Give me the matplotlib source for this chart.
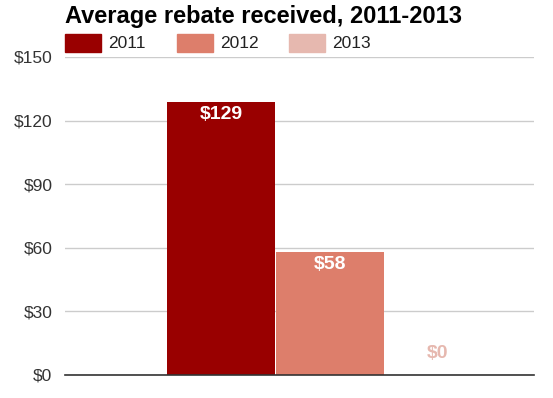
import matplotlib
matplotlib.use("Agg")
import matplotlib.pyplot as plt
from matplotlib.patches import Rectangle

plt.rcParams['font.family'] = ['Liberation Sans', 'DejaVu Sans']

# data
years = ['2011', '2012', '2013']
rebates = [129, 58, 0]
bar_colors = ['#990000', '#dd7e6b', '#e6b8af']
yticks = [0, 30, 60, 90, 120, 150]

fig = plt.figure(figsize=(5.53, 3.98), dpi=100)
ax = fig.add_axes([65 / 553, 23 / 398, 469 / 553, 318 / 398])

positions = [0, 1, 2]
ax.bar(positions, rebates, width=0.995, color=bar_colors, zorder=2)

# value labels: inside the bar in white, or above it in the bar colour when too small
label_font = ['Liberation Sans Narrow', 'Liberation Sans', 'DejaVu Sans']
for x, v, c in zip(positions, rebates, bar_colors):
    if v > 20:
        ax.text(x, v - 6, f'${v}', ha='center', va='center', color='white',
                fontsize=14, fontweight='bold', family=label_font, zorder=3)
    else:
        ax.text(x, v + 10, f'${v}', ha='center', va='center', color=c,
                fontsize=14, fontweight='bold', family=label_font, zorder=3)

ax.set_xlim(-1.44, 2.885)
ax.set_ylim(0, 150)
ax.set_yticks(yticks)
ax.set_yticklabels([f'${t}' for t in yticks], fontsize=12.5, color='#333333')
ax.set_xticks([])
ax.tick_params(axis='y', length=0, pad=9)
ax.grid(axis='y', color='#cccccc', linewidth=1, zorder=0)
for side in ['top', 'right', 'left']:
    ax.spines[side].set_visible(False)
ax.spines['bottom'].set_color('#333333')
ax.spines['bottom'].set_linewidth(1.2)
ax.spines['bottom'].set_zorder(4)

# title
fig.text(65 / 553, 1 - 17 / 398, 'Average rebate received, 2011-2013',
         ha='left', va='center', fontsize=17, fontweight='bold', color='black')

# legend drawn as in the original: swatch + label in a row
legend_x = [65, 177, 289]
for lx, yr, c in zip(legend_x, years, bar_colors):
    fig.patches.append(Rectangle((lx / 553, 1 - 52 / 398), 36 / 553, 18 / 398,
                                 transform=fig.transFigure, color=c, figure=fig))
    fig.text((lx + 43) / 553, 1 - 43 / 398, yr, ha='left', va='center',
             fontsize=12.5, color='#222222')

plt.savefig('out.png', dpi=100)
